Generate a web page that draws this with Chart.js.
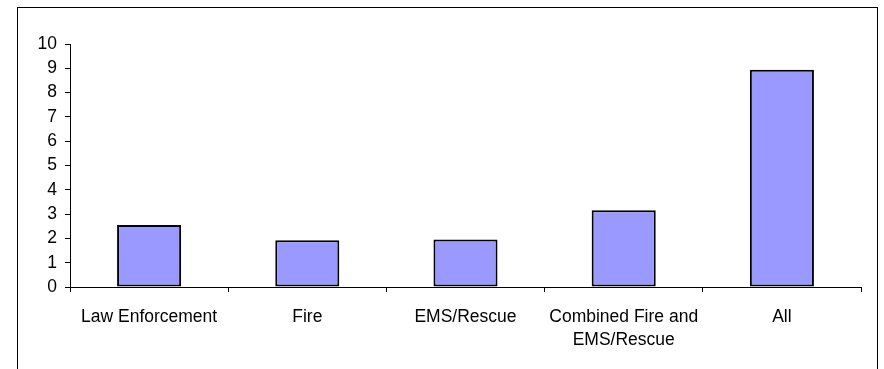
<!DOCTYPE html>
<html>
<head>
<meta charset="utf-8">
<script src="https://cdn.jsdelivr.net/npm/chart.js@4"></script>
<style>
html, body { margin: 0; padding: 0; background: #fff; }
#wrap { position: relative; width: 884px; height: 369px; overflow: hidden; }
#frame { position: absolute; left: 17px; top: 7px; width: 861px; height: 400px; border: 1px solid #000; box-sizing: border-box; }
canvas { position: absolute; left: 0; top: 0; }
</style>
</head>
<body>
<div id="wrap">
  <div id="frame"></div>
  <canvas id="myChart" width="884" height="369"></canvas>
</div>
<script>
const categories = ['Law Enforcement', 'Fire', 'EMS/Rescue', ['Combined Fire and', 'EMS/Rescue'], 'All'];
const values = [2.55, 1.92, 1.95, 3.16, 8.94];
const yMin = 0;
const yMax = 10;
const yStep = 1;

Chart.defaults.font.family = '"Liberation Sans", Arial, sans-serif';
Chart.defaults.font.size = 17.5;
Chart.defaults.color = '#000';

const ctx = document.getElementById('myChart').getContext('2d');

const myChart = new Chart(ctx, {
    type: 'bar',
    data: {
        labels: categories,
        datasets: [{
            data: values,
            backgroundColor: '#9999ff',
            borderColor: '#000',
            borderWidth: 2,
            borderSkipped: false,
            barPercentage: 0.405,
            categoryPercentage: 1
        }]
    },
    options: {
        responsive: false,
        animation: false,
        layout: { padding: { left: 0, top: 44, right: 23, bottom: 0 } },
        plugins: {
            legend: { display: false },
            tooltip: { enabled: false }
        },
        scales: {
            x: {
                grid: { drawOnChartArea: false, tickLength: 5, color: '#000', offset: true },
                border: { color: '#000', width: 1 },
                ticks: { padding: 14, maxRotation: 0, autoSkip: false, font: { lineHeight: 1.32 } },
                afterFit: function (scale) { scale.height = 82; }
            },
            y: {
                min: yMin,
                max: yMax,
                grid: { drawOnChartArea: false, tickLength: 5, color: '#000' },
                border: { color: '#000', width: 1 },
                ticks: { stepSize: yStep, padding: 8 },
                afterFit: function (scale) { scale.width = 70; }
            }
        }
    }
});
</script>
</body>
</html>
